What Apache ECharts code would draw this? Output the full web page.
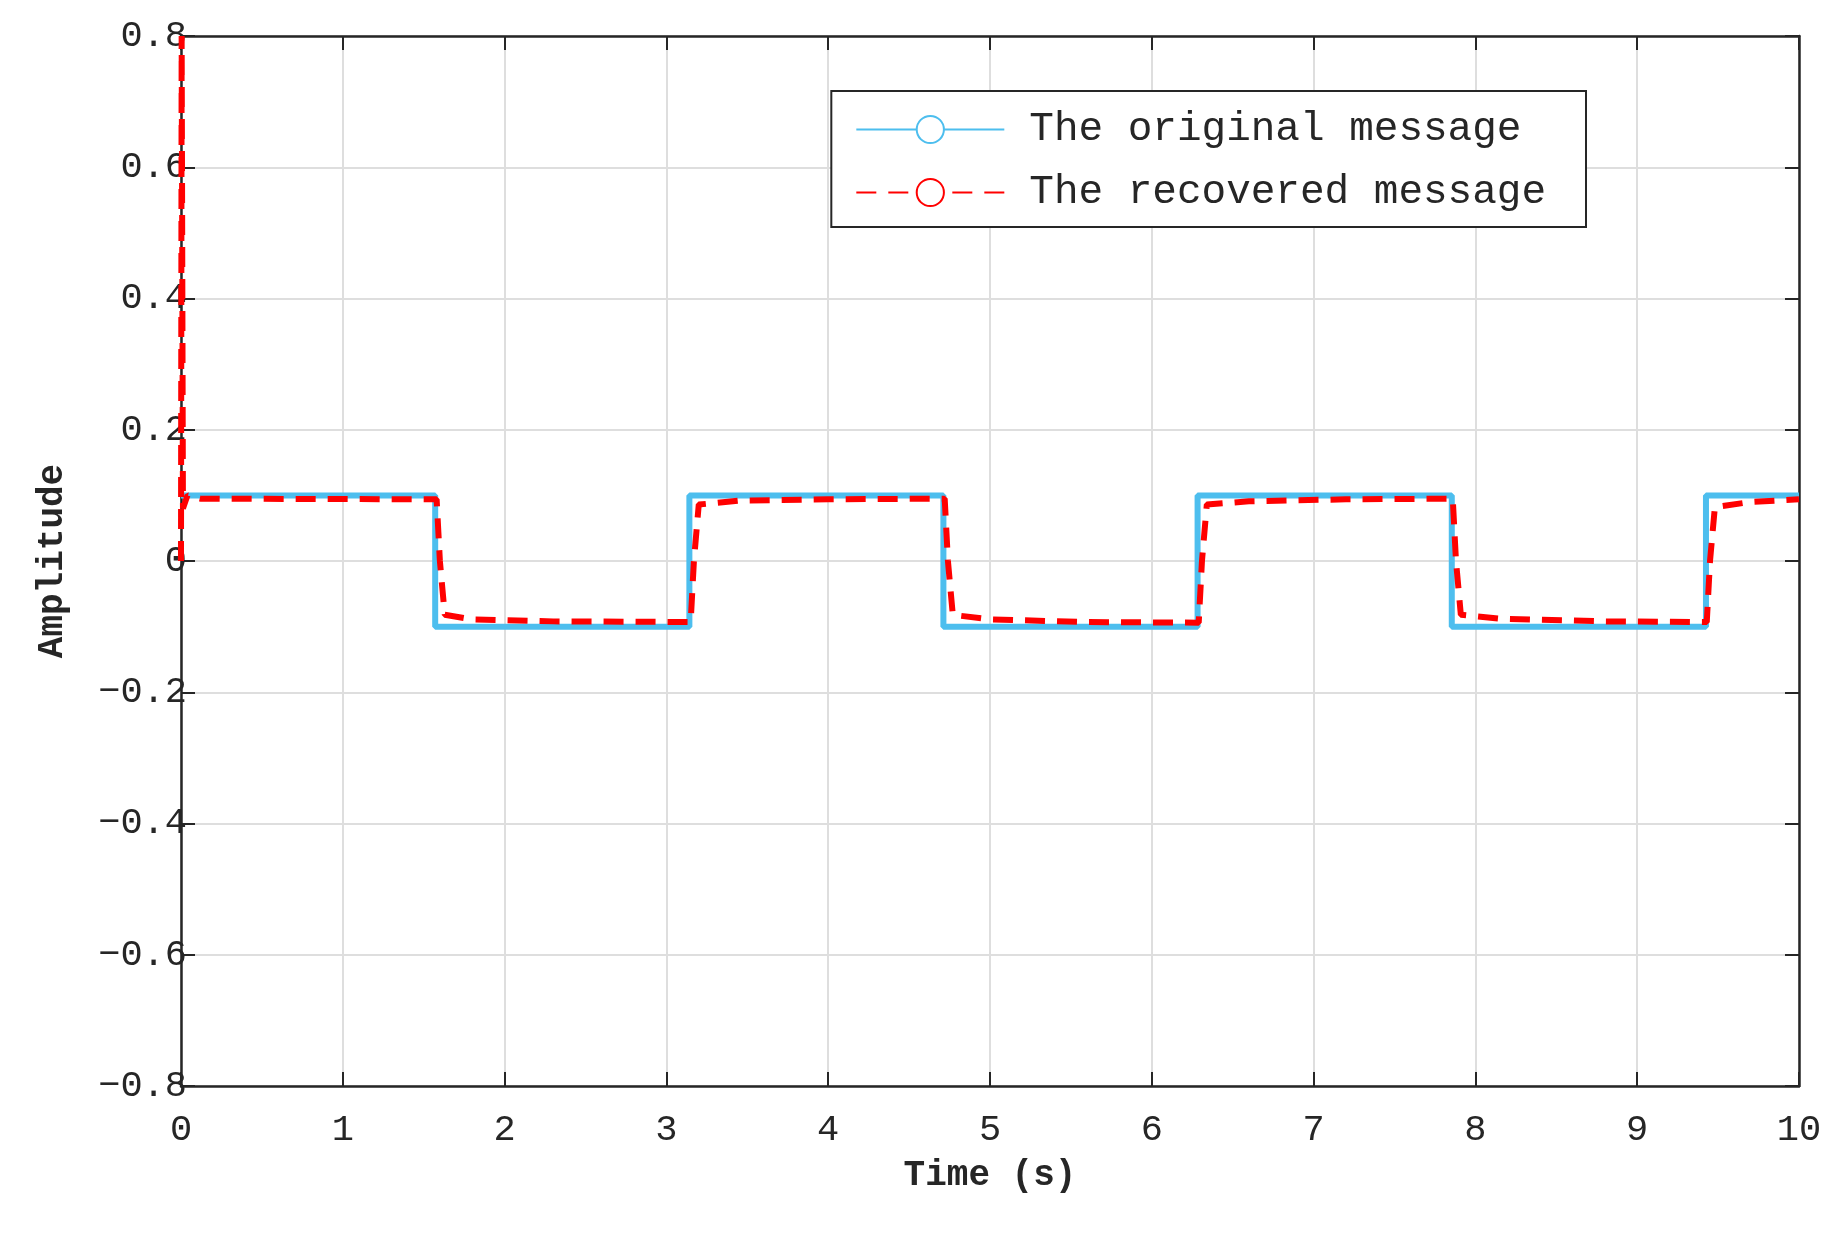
<!DOCTYPE html>
<html>
<head>
<meta charset="utf-8">
<script src="https://cdn.jsdelivr.net/npm/echarts@6/dist/echarts.min.js"></script>
<style>html,body{margin:0;background:#fff}#main{width:1844px;height:1234px}</style>
</head>
<body>
<div id="main"></div>
<script>
var original = [
    [0, 0.1], [1.571, 0.1], [1.571, -0.1], [3.142, -0.1], [3.142, 0.1],
    [4.712, 0.1], [4.712, -0.1], [6.283, -0.1], [6.283, 0.1],
    [7.854, 0.1], [7.854, -0.1], [9.425, -0.1], [9.425, 0.1], [10, 0.1]
];
var recovered = [
    [0, 0], [0.004, 0.8], [0.012, 0.08], [0.04, 0.1], [0.12, 0.095],
    [1.58, 0.094], [1.6, 0.0], [1.63, -0.082], [1.8, -0.089], [2.3, -0.092], [3.15, -0.093],
    [3.17, 0.0], [3.2, 0.086], [3.45, 0.092], [4.0, 0.094], [4.72, 0.095],
    [4.74, 0.0], [4.77, -0.082], [5.0, -0.089], [5.6, -0.093], [6.29, -0.094],
    [6.31, 0.0], [6.34, 0.086], [6.6, 0.091], [7.2, 0.094], [7.86, 0.095],
    [7.88, 0.0], [7.91, -0.082], [8.15, -0.088], [8.8, -0.092], [9.43, -0.093],
    [9.45, 0.0], [9.48, 0.082], [9.7, 0.09], [10, 0.094]
];
var seriesNames = ['The original message', 'The recovered message'];

var font = 'Liberation Mono';
var ink = '#262626';
var myChart = echarts.init(document.getElementById('main'), null, { renderer: 'canvas' });

var tickLabel = { fontFamily: font, fontSize: 37, color: ink };

var option = {
    animation: false,
    grid: { left: 181, right: 45, top: 36, bottom: 148 },
    legend: {
        right: 258,
        top: 91,
        orient: 'vertical',
        backgroundColor: '#fff',
        borderColor: ink,
        borderWidth: 2,
        borderRadius: 0,
        padding: [18, 40, 14, 24],
        itemGap: 22,
        itemWidth: 148,
        itemHeight: 34,
        textStyle: { fontFamily: font, fontSize: 41, color: ink, padding: [0, 0, 0, 20] },
        data: seriesNames
    },
    xAxis: [{
        type: 'value', min: 0, max: 10, interval: 1,
        name: 'Time (s)', nameLocation: 'middle', nameGap: 72,
        nameTextStyle: { fontFamily: font, fontSize: 36, fontWeight: 'bold', color: ink },
        axisLine: { onZero: false, lineStyle: { color: ink, width: 2.5 } },
        axisTick: { inside: true, length: 14, lineStyle: { color: ink, width: 2 } },
        axisLabel: Object.assign({ margin: 26 }, tickLabel),
        splitLine: { lineStyle: { color: '#dedede', width: 2 } }
    }, {
        type: 'value', min: 0, max: 10, interval: 1, position: 'top',
        axisLine: { onZero: false, lineStyle: { color: ink, width: 2.5 } },
        axisTick: { inside: true, length: 14, lineStyle: { color: ink, width: 2 } },
        axisLabel: { show: false }, splitLine: { show: false }
    }],
    yAxis: [{
        type: 'value', min: -0.8, max: 0.8, interval: 0.2,
        name: 'Amplitude', nameLocation: 'middle', nameGap: 110,
        nameTextStyle: { fontFamily: font, fontSize: 36, fontWeight: 'bold', color: ink },
        axisLine: { onZero: false, lineStyle: { color: ink, width: 2.5 } },
        axisTick: { inside: true, length: 14, lineStyle: { color: ink, width: 2 } },
        axisLabel: Object.assign({ margin: -6, formatter: function (v) {
            v = Math.round(v * 10) / 10;
            return v === 0 ? '0' : v.toFixed(1).replace('-', '\u2212');
        } }, tickLabel),
        splitLine: { lineStyle: { color: '#dedede', width: 2 } }
    }, {
        type: 'value', min: -0.8, max: 0.8, interval: 0.2, position: 'right',
        axisLine: { onZero: false, lineStyle: { color: ink, width: 2.5 } },
        axisTick: { inside: true, length: 14, lineStyle: { color: ink, width: 2 } },
        axisLabel: { show: false }, splitLine: { show: false }
    }],
    series: [{
        name: seriesNames[0], type: 'line', data: original, showSymbol: false,
        lineStyle: { color: '#4dbeee', width: 6 }, itemStyle: { color: '#4dbeee' }
    }, {
        name: seriesNames[1], type: 'line', data: recovered, showSymbol: false,
        lineStyle: { color: '#ff0000', width: 6, type: [20, 12] }, itemStyle: { color: '#ff0000' }
    }]
};

myChart.setOption(option);
window.addEventListener('resize', myChart.resize);
</script>
</body>
</html>
